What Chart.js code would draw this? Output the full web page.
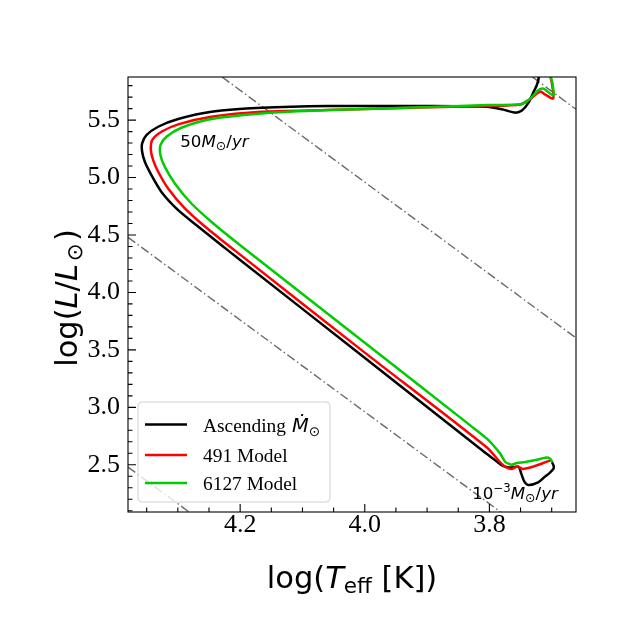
<!DOCTYPE html>
<html>
<head>
<meta charset="utf-8">
<script src="https://cdn.jsdelivr.net/npm/chart.js@4.4.1/dist/chart.umd.min.js"></script>
<style>
html, body { margin: 0; padding: 0; background: #fff; }
</style>
</head>
<body>
<canvas id="hrCanvas" width="640" height="640"></canvas>
<script>

// tracks: log Teff / log L, from the cool end round the knee and back
var ascT = [3.6997, 3.6971, 3.6971, 3.704, 3.7104, 3.7217, 3.7377, 3.7441, 3.749, 3.753, 3.7634, 3.773, 3.781, 3.7987, 3.8148, 4.0074, 4.200, 4.230, 4.270, 4.2995, 4.3263, 4.3424, 4.353, 4.3573, 4.3573, 4.3504, 4.3316, 4.2995, 4.2461, 4.1658, 4.0588, 3.9111, 3.804, 3.7774, 3.7586, 3.7478, 3.7372, 3.7292, 3.7238, 3.7209, 3.7196];
var ascL = [2.5235, 2.4948, 2.466, 2.425, 2.399, 2.347, 2.325, 2.355, 2.425, 2.482, 2.477, 2.482, 2.499, 2.573, 2.64, 3.462, 4.282, 4.411, 4.585, 4.716, 4.875, 5.021, 5.137, 5.224, 5.297, 5.369, 5.442, 5.509, 5.572, 5.607, 5.622, 5.622, 5.616, 5.591, 5.565, 5.583, 5.652, 5.744, 5.805, 5.866, 5.95];

var m491T = [3.6992, 3.7088, 3.7265, 3.7465, 3.7554, 3.7639, 3.773, 3.781, 3.804, 4.0, 4.2, 4.2193, 4.259, 4.2888, 4.3156, 4.3316, 4.3396, 4.3433, 4.3412, 4.3263, 4.2995, 4.2461, 4.1658, 4.0588, 3.9111, 3.804, 3.7506, 3.7345, 3.7185, 3.7104, 3.6976, 3.6992, 3.7016, 3.7024];
var m491L = [2.543, 2.525, 2.490, 2.464, 2.486, 2.464, 2.477, 2.512, 2.65, 3.476, 4.329, 4.411, 4.585, 4.731, 4.905, 5.05, 5.152, 5.239, 5.326, 5.398, 5.463, 5.529, 5.572, 5.587, 5.609, 5.622, 5.635, 5.683, 5.748, 5.722, 5.687, 5.805, 5.875, 5.979];

var m6127T = [3.6992, 3.7024, 3.7104, 3.7238, 3.7425, 3.7559, 3.7639, 3.7693, 3.7746, 3.7827, 3.804, 3.8308, 4.0, 4.2, 4.243, 4.2782, 4.3048, 4.3209, 4.3279, 4.3279, 4.3183, 4.2942, 4.2461, 4.1658, 4.0588, 3.9111, 3.804, 3.7506, 3.7345, 3.7212, 3.7132, 3.6971, 3.6992, 3.7016, 3.7024];
var m6127L = [2.521, 2.553, 2.562, 2.544, 2.524, 2.515, 2.501, 2.510, 2.524, 2.597, 2.727, 2.843, 3.562, 4.411, 4.600, 4.774, 4.949, 5.093, 5.195, 5.282, 5.355, 5.433, 5.509, 5.558, 5.587, 5.611, 5.631, 5.637, 5.686, 5.761, 5.774, 5.713, 5.831, 5.875, 5.979];

// dash-dot guide lines, end points on the frame
var guideT = [[4.229, 3.661], [3.731, 3.661], [4.380, 3.782], [4.380, 4.282]];
var guideL = [[5.875, 3.604], [5.875, 5.594], [4.480, 2.089], [2.480, 2.089]];

var trackNames = ['Ascending', '491 Model', '6127 Model'];
var trackColors = ['#000000', '#ff0000', '#00cc00'];

var xTicks = [4.2, 4.0, 3.8];
var yTicks = [2.5, 3.0, 3.5, 4.0, 4.5, 5.0, 5.5];
var xRange = [3.661, 4.380];
var yRange = [2.089, 5.875];

// labels on the plot, anchored at data coords
var notes = [
    { t: 4.2963, l: 5.265, base: '50', sup: '' },
    { t: 3.8276, l: 2.199, base: '10', sup: '\u22123' }
];

var serif = "'Liberation Serif', 'Times New Roman', serif";
var sans = "'DejaVu Sans', sans-serif";

var toPoints = function (ts, ls) {
    var out = [];
    for (var i = 0; i < ts.length; i++) out.push({ x: ts[i], y: ls[i] });
    return out;
};

var datasets = [];
var trackT = [ascT, m491T, m6127T];
var trackL = [ascL, m491L, m6127L];
for (var i = 0; i < 3; i++) {
    datasets.push({
        label: trackNames[i],
        data: toPoints(trackT[i], trackL[i]),
        borderColor: trackColors[i],
        backgroundColor: trackColors[i],
        borderWidth: 2.5,
        pointRadius: 0,
        showLine: true,
        tension: 0.25,
        order: 3 - i
    });
}
for (var g = 0; g < guideT.length; g++) {
    datasets.push({
        label: 'guide' + g,
        data: toPoints(guideT[g], guideL[g]),
        borderColor: '#6a6a6a',
        borderWidth: 1.4,
        borderDash: [9, 3, 1.5, 3],
        pointRadius: 0,
        showLine: true,
        tension: 0,
        order: 10
    });
}

// text made of pieces in different fonts
var drawPieces = function (ctx, pieces, x, y) {
    var cx = x;
    for (var i = 0; i < pieces.length; i++) {
        var p = pieces[i];
        ctx.font = p.f;
        cx += p.gap || 0;
        ctx.fillText(p.s, cx, y + (p.dy || 0));
        cx += ctx.measureText(p.s).width;
    }
    return cx - x;
};
var piecesWidth = function (ctx, pieces) {
    var w = 0;
    for (var i = 0; i < pieces.length; i++) {
        ctx.font = pieces[i].f;
        w += (pieces[i].gap || 0) + ctx.measureText(pieces[i].s).width;
    }
    return w;
};

var decor = {
    id: 'hrDecor',
    afterDatasetsDraw: function (chart) {
        var ctx = chart.ctx;
        var a = chart.chartArea;
        var xs = chart.scales.x, ys = chart.scales.y;
        ctx.save();

        // frame
        ctx.strokeStyle = '#000';
        ctx.lineWidth = 1.1;
        ctx.strokeRect(a.left, a.top, a.right - a.left, a.bottom - a.top);

        // inward ticks, bottom and left only
        ctx.beginPath();
        for (var v = 3.70; v <= 4.36; v += 0.05) {
            var vx = Math.round(v * 100) / 100;
            var major = Math.abs(vx * 5 - Math.round(vx * 5)) < 1e-6;
            var px = xs.getPixelForValue(vx);
            ctx.moveTo(px, a.bottom);
            ctx.lineTo(px, a.bottom - (major ? 8 : 4.5));
        }
        for (var w = 2.1; w <= 5.85; w += 0.1) {
            var vy = Math.round(w * 10) / 10;
            var maj = Math.abs(vy * 2 - Math.round(vy * 2)) < 1e-6;
            var py = ys.getPixelForValue(vy);
            ctx.moveTo(a.left, py);
            ctx.lineTo(a.left + (maj ? 8 : 4.5), py);
        }
        ctx.stroke();

        // notes on the plot
        ctx.fillStyle = '#000';
        ctx.textBaseline = 'alphabetic';
        ctx.textAlign = 'left';
        for (var n = 0; n < notes.length; n++) {
            var nt = notes[n];
            var pc = [{ s: nt.base, f: '16.7px ' + sans }];
            if (nt.sup) pc.push({ s: nt.sup, f: '11.7px ' + sans, dy: -7 });
            pc.push({ s: 'M', f: 'italic 16.7px ' + sans });
            pc.push({ s: '\u2299', f: '12.5px ' + sans, dy: 3 });
            pc.push({ s: '/', f: '16.7px ' + sans });
            pc.push({ s: 'yr', f: 'italic 16.7px ' + sans });
            drawPieces(ctx, pc, xs.getPixelForValue(nt.t), ys.getPixelForValue(nt.l));
        }

        // legend box
        var bx = 138, by = 402, bw = 192, bh = 100, r = 4;
        ctx.beginPath();
        ctx.moveTo(bx + r, by);
        ctx.arcTo(bx + bw, by, bx + bw, by + bh, r);
        ctx.arcTo(bx + bw, by + bh, bx, by + bh, r);
        ctx.arcTo(bx, by + bh, bx, by, r);
        ctx.arcTo(bx, by, bx + bw, by, r);
        ctx.closePath();
        ctx.fillStyle = 'rgba(255,255,255,0.8)';
        ctx.fill();
        ctx.strokeStyle = '#d0d0d0';
        ctx.lineWidth = 1;
        ctx.stroke();

        var rowY = [424.5, 455, 483];
        for (var k = 0; k < trackNames.length; k++) {
            ctx.strokeStyle = trackColors[k];
            ctx.lineWidth = 2.5;
            ctx.beginPath();
            ctx.moveTo(145, rowY[k]);
            ctx.lineTo(187, rowY[k]);
            ctx.stroke();
            ctx.fillStyle = '#000';
            var lp = [{ s: trackNames[k], f: '19.4px ' + serif }];
            if (k === 0) {
                lp.push({ s: 'M\u0307', f: 'italic 19.4px ' + sans, gap: 6 });
                lp.push({ s: '\u2299', f: '13.6px ' + sans, dy: 4 });
            }
            drawPieces(ctx, lp, 203, rowY[k] + 7);
        }

        // axis titles
        ctx.fillStyle = '#000';
        var xt = [
            { s: 'log(', f: '30.5px ' + sans },
            { s: 'T', f: 'italic 30.5px ' + sans },
            { s: 'eff', f: '21.5px ' + sans, dy: 5 },
            { s: ' [K])', f: '30.5px ' + sans }
        ];
        var xw = piecesWidth(ctx, xt);
        drawPieces(ctx, xt, 352 - xw / 2, 588);

        var yt = [
            { s: 'log(', f: '30.5px ' + sans },
            { s: 'L', f: 'italic 30.5px ' + sans },
            { s: '/', f: '30.5px ' + sans },
            { s: 'L', f: 'italic 30.5px ' + sans },
            { s: '\u2299', f: '21.5px ' + sans, dy: 5, gap: 3 },
            { s: ')', f: '30.5px ' + sans, gap: 2 }
        ];
        var yw = piecesWidth(ctx, yt);
        ctx.translate(77, 298);
        ctx.rotate(-Math.PI / 2);
        drawPieces(ctx, yt, -yw / 2, 0);

        ctx.restore();
    }
};

var ctx = document.getElementById('hrCanvas').getContext('2d');
new Chart(ctx, {
    type: 'scatter',
    data: { datasets: datasets },
    options: {
        responsive: false,
        animation: false,
        devicePixelRatio: 1,
        layout: { padding: { left: 0, top: 77, right: 64, bottom: 0 } },
        plugins: { legend: { display: false }, tooltip: { enabled: false } },
        scales: {
            x: {
                type: 'linear',
                reverse: true,
                min: xRange[0],
                max: xRange[1],
                afterFit: function (s) { s.height = 128; },
                afterBuildTicks: function (s) { s.ticks = xTicks.map(function (v) { return { value: v }; }); },
                grid: { display: false, drawTicks: false },
                border: { display: false },
                ticks: {
                    padding: -2,
                    color: '#000',
                    font: { family: serif, size: 26 },
                    maxRotation: 0,
                    callback: function (v) { return v.toFixed(1); }
                }
            },
            y: {
                type: 'linear',
                min: yRange[0],
                max: yRange[1],
                afterFit: function (s) { s.width = 128; },
                afterBuildTicks: function (s) { s.ticks = yTicks.map(function (v) { return { value: v }; }); },
                grid: { display: false, drawTicks: false },
                border: { display: false },
                ticks: {
                    padding: 8,
                    color: '#000',
                    font: { family: serif, size: 26 },
                    callback: function (v) { return v.toFixed(1); }
                }
            }
        }
    },
    plugins: [decor]
});

</script>
</body>
</html>
